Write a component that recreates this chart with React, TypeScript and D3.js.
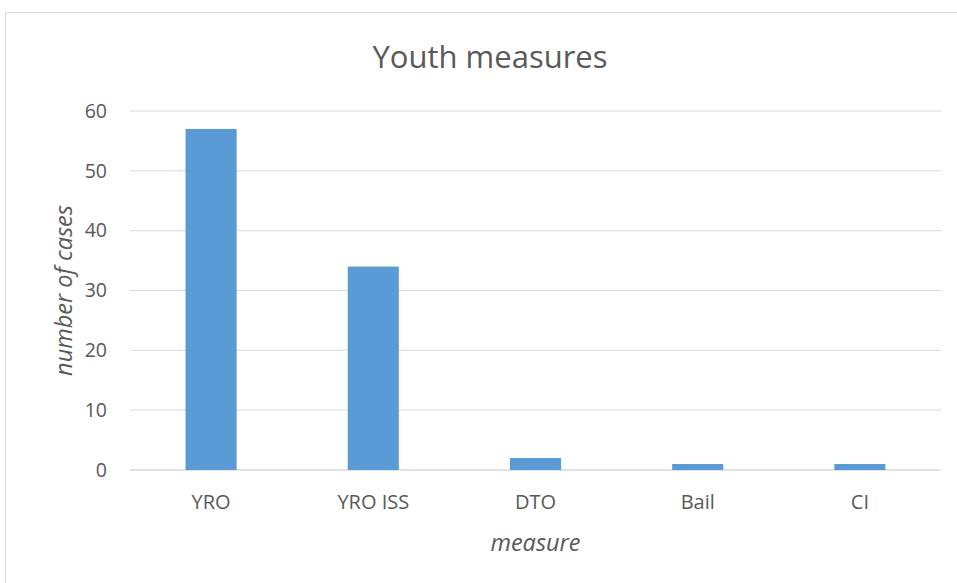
import React from "react";
import * as d3 from "d3";

const categories = ["YRO", "YRO ISS", "DTO", "Bail", "CI"];
const values = [57, 34, 2, 1, 1];
const yTicks = [0, 10, 20, 30, 40, 50, 60];

const W = 957;
const H = 583;
const plot = { left: 130, right: 941, top: 111, bottom: 470 };
const FONT = "'Open Sans', 'Noto Sans', sans-serif";
const TEXT = "#595959";
const GRID = "#D9D9D9";
const BAR = "#5B9BD5";

export default function App() {
  const x = d3.scaleBand<string>().domain(categories).range([plot.left, plot.right]).padding(0);
  const y = d3.scaleLinear().domain([0, 60]).range([plot.bottom, plot.top]);
  const barW = x.bandwidth() * 0.315;

  return (
    <svg
      width={W}
      height={H}
      style={{ position: "absolute", left: 0, top: 0, background: "#fff" }}
      fontFamily={FONT}
    >
      <rect x={5.5} y={12.5} width={W} height={H} fill="#fff" stroke={GRID} strokeWidth={1} />
      <text x={490} y={68} textAnchor="middle" fontSize={31} fill={TEXT}>
        Youth measures
      </text>

      {yTicks.map((t) => (
        <g key={t}>
          <line x1={plot.left} x2={plot.right} y1={y(t)} y2={y(t)} stroke={GRID} strokeWidth={t === 0 ? 1.5 : 1} />
          <text x={107} y={y(t)} dy="0.35em" textAnchor="end" fontSize={19.5} fill={TEXT}>
            {t}
          </text>
        </g>
      ))}

      {categories.map((c, i) => (
        <rect
          key={c}
          x={(x(c) as number) + x.bandwidth() / 2 - barW / 2}
          y={y(values[i])}
          width={barW}
          height={y(0) - y(values[i])}
          fill={BAR}
        />
      ))}

      {categories.map((c) => (
        <text key={c} x={(x(c) as number) + x.bandwidth() / 2} y={502} dy="0.35em" textAnchor="middle" fontSize={20} fill={TEXT}>
          {c}
        </text>
      ))}

      <text x={(plot.left + plot.right) / 2} y={543} dy="0.35em" textAnchor="middle" fontSize={23.5} fontStyle="italic" fill={TEXT}>
        measure
      </text>
      <text
        transform={`translate(64, ${(plot.top + plot.bottom) / 2}) rotate(-90)`}
        textAnchor="middle"
        dy="0.35em"
        fontSize={23.5}
        fontStyle="italic"
        fill={TEXT}
      >
        number of cases
      </text>
    </svg>
  );
}
